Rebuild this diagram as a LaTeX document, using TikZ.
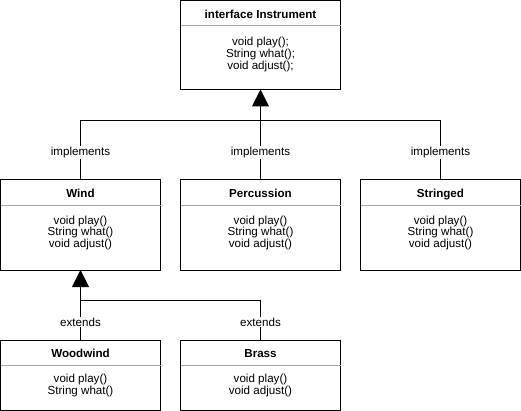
\documentclass[tikz,border=0pt]{standalone}
\usepackage{fontspec}
\setmainfont{Liberation Sans}
\usetikzlibrary{arrows.meta}
\begin{document}
\begin{tikzpicture}[x=1pt,y=-1pt,
  umlbox/.style={draw=black,line width=1pt,minimum width=160pt,inner sep=0pt,outer sep=0pt},
  divider/.style={draw=black!35,line width=0.8pt},
  titletext/.style={font=\fontsize{11.6}{11.7}\selectfont\bfseries,inner sep=0pt,anchor=base},
  bodytext/.style={font=\fontsize{11.6}{11.7}\selectfont,align=center,inner sep=0pt,anchor=base},
  edgelabel/.style={font=\fontsize{11.6}{11.7}\selectfont,fill=white,inner sep=1pt,anchor=base},
  conn/.style={draw=black,line width=1pt},
  inherit/.style={conn,-{Triangle[length=17pt,width=17pt]}}
]
\useasboundingbox (0,0) rectangle (521,411);
\fill[white] (0,0) rectangle (521,411);

% interface box
\node[umlbox,minimum height=89pt] (instr) at (260.5,45) {};
\node[titletext] (instrT) at (260.5,18.8) {interface Instrument};
\draw[divider] (180.5,25.5) -- (340.5,25.5);
\node[bodytext] (instrB) at (260.5,69.2) {void play();\\String what();\\void adjust();};

% Wind
\node[umlbox,minimum height=90pt] (wind) at (80.5,225) {};
\node[titletext] (windT) at (80.5,197.2) {Wind};
\draw[divider] (0.5,205.5) -- (160.5,205.5);
\node[bodytext] (windB) at (80.5,247.6) {void play()\\String what()\\void adjust()};

% Percussion
\node[umlbox,minimum height=90pt] (perc) at (260.5,225) {};
\node[titletext] (percT) at (260.5,197.2) {Percussion};
\draw[divider] (180.5,205.5) -- (340.5,205.5);
\node[bodytext] (percB) at (260.5,247.6) {void play()\\String what()\\void adjust()};

% Stringed
\node[umlbox,minimum height=90pt] (str) at (440.5,225) {};
\node[titletext] (strT) at (440.5,197.2) {Stringed};
\draw[divider] (360.5,205.5) -- (520.5,205.5);
\node[bodytext] (strB) at (440.5,247.6) {void play()\\String what()\\void adjust()};

% Woodwind
\node[umlbox,minimum height=70pt] (wood) at (80.5,375) {};
\node[titletext] (woodT) at (80.5,357.2) {Woodwind};
\draw[divider] (0.5,365.5) -- (160.5,365.5);
\node[bodytext] (woodB) at (80.5,394.3) {void play()\\String what()};

% Brass
\node[umlbox,minimum height=70pt] (brass) at (260.5,375) {};
\node[titletext] (brassT) at (260.5,357.2) {Brass};
\draw[divider] (180.5,365.5) -- (340.5,365.5);
\node[bodytext] (brassB) at (260.5,394.3) {void play()\\void adjust()};

% implements connectors
\coordinate (jI) at (260.5,120.5);
\coordinate (jIw) at (80.5,120.5);
\coordinate (jIs) at (440.5,120.5);
\draw[conn] (wind.north) -- (jIw) -- (jIs) -- (str.north);
\draw[conn] (perc.north) -- (jI);
\draw[inherit] (jI) -- (instr.south);
\node[edgelabel] (lblW) at (80.5,155.6) {implements};
\node[edgelabel] (lblP) at (260.5,155.6) {implements};
\node[edgelabel] (lblS) at (440.5,155.6) {implements};

% extends connectors
\coordinate (jE) at (80.5,300.5);
\coordinate (jEb) at (260.5,300.5);
\draw[conn] (brass.north) -- (jEb) -- (jE);
\draw[conn] (wood.north) -- (jE);
\draw[inherit] (jE) -- (wind.south);
\node[edgelabel] (lblWo) at (80.5,326.2) {extends};
\node[edgelabel] (lblB) at (260.5,326.2) {extends};
\end{tikzpicture}
\end{document}
